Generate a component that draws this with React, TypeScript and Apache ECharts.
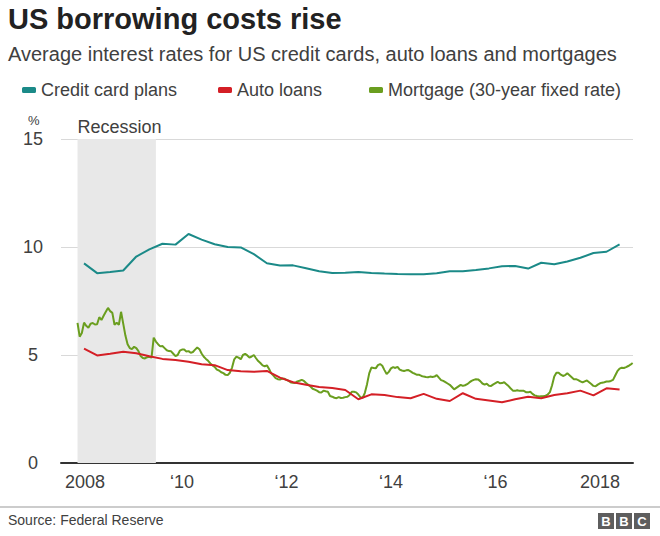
import React, { useEffect, useRef } from "react";
import * as echarts from "echarts";

const FONT = '"Liberation Sans", Arial, Helvetica, sans-serif';

// x-axis tick years
const yearTicks = [2008, 2010, 2012, 2014, 2016, 2018];
// y-axis ticks
const yTicks = [0, 5, 10, 15];
// Recession shading (start, end) in decimal years
const recession = [2008.0, 2009.5];

// Quarterly series: first observation Feb 2008, one every 3 months
const quarterlyStart = { year: 2008, month: 2 };
const creditCard = [
  9.24, 8.79, 8.84, 8.91, 9.56, 9.89, 10.15, 10.11, 10.6, 10.34,
  10.13, 10.0, 9.98, 9.67, 9.25, 9.14, 9.15, 9.02, 8.88, 8.8,
  8.81, 8.84, 8.8, 8.77, 8.75, 8.74, 8.74, 8.79, 8.88, 8.88,
  8.94, 9.01, 9.11, 9.12, 9.0, 9.27, 9.2, 9.33, 9.5, 9.72,
  9.78, 10.12,
];
const autoLoans = [
  5.3, 4.98, 5.06, 5.15, 5.08, 4.94, 4.82, 4.77, 4.69, 4.57,
  4.53, 4.3, 4.25, 4.22, 4.26, 3.95, 3.74, 3.62, 3.52, 3.47,
  3.38, 2.95, 3.18, 3.15, 3.05, 3.0, 3.2, 2.97, 2.87, 3.23,
  2.97, 2.89, 2.81, 2.95, 3.07, 3.0, 3.15, 3.23, 3.35, 3.13,
  3.46, 3.4,
];

// Mortgage: twice-monthly readings (1st and 16th) from Jan 2008
const mortgageStart = { year: 2008, month: 1 };
const mortgage = [
  6.49, 5.85, 6.02, 6.5, 6.35, 6.26, 6.45, 6.48, 6.41, 6.42,
  6.75, 6.62, 6.82, 7.0, 7.18, 7.03, 6.95, 6.4, 6.49, 6.4,
  7.0, 6.45, 5.9, 5.5, 5.32, 5.27, 5.38, 5.32, 5.18, 4.95,
  4.86, 4.84, 4.9, 4.92, 4.88, 5.8, 5.62, 5.5, 5.4, 5.42,
  5.32, 5.22, 5.18, 5.17, 5.06, 4.95, 5.0, 5.2, 5.25, 5.25,
  5.16, 5.18, 5.1, 5.14, 5.25, 5.35, 5.27, 5.07, 4.92, 4.82,
  4.73, 4.61, 4.52, 4.45, 4.32, 4.28, 4.2, 4.16, 4.08, 4.07,
  4.18, 4.42, 4.8, 4.92, 4.88, 4.8, 5.0, 5.05, 4.98, 4.88,
  4.93, 5.0, 4.85, 4.72, 4.63, 4.52, 4.48, 4.52, 4.35, 4.15,
  4.05, 3.93, 3.88, 3.86, 3.91, 3.9, 3.85, 3.8, 3.73, 3.72,
  3.7, 3.78, 3.81, 3.85, 3.8, 3.7, 3.62, 3.54, 3.44, 3.4,
  3.35, 3.28, 3.26, 3.35, 3.32, 3.3, 3.1, 3.07, 3.02, 3.0,
  3.05, 3.01, 3.02, 3.05, 3.07, 3.15, 3.3, 3.3, 3.27, 3.17,
  3.04, 3.02, 3.25, 3.65, 4.15, 4.42, 4.4, 4.38, 4.53, 4.58,
  4.5, 4.3, 4.12, 4.22, 4.38, 4.44, 4.4, 4.45, 4.32, 4.28,
  4.26, 4.29, 4.3, 4.24, 4.17, 4.13, 4.08, 4.08, 4.03, 4.0,
  3.98, 3.97, 4.0, 3.98, 4.0, 4.07, 3.95, 3.84, 3.8, 3.74,
  3.68, 3.62, 3.52, 3.41, 3.48, 3.55, 3.62, 3.57, 3.6, 3.65,
  3.73, 3.8, 3.85, 3.88, 3.87, 3.79, 3.68, 3.63, 3.67, 3.58,
  3.57, 3.64, 3.7, 3.76, 3.69, 3.7, 3.74, 3.65, 3.56, 3.45,
  3.35, 3.34, 3.37, 3.34, 3.34, 3.34, 3.28, 3.27, 3.3, 3.2,
  3.13, 3.1, 3.08, 3.09, 3.09, 3.12, 3.17, 3.28, 3.6, 4.0,
  4.18, 4.18, 4.09, 4.03, 4.07, 4.15, 4.06, 3.97, 3.88, 3.88,
  3.84, 3.78, 3.73, 3.78, 3.82, 3.74, 3.66, 3.57, 3.55, 3.63,
  3.69, 3.72, 3.74, 3.77, 3.77, 3.8, 3.85, 4.05, 4.25, 4.37,
  4.41, 4.4, 4.44, 4.49, 4.55, 4.63,
];

const seriesNames = ["Credit card plans", "Auto loans", "Mortgage (30-year fixed rate)"];
const seriesColors = ["#1b8a88", "#d41f26", "#6a9e1f"];

// quarterly observation -> decimal year (mid-month)
const quarterly = (vals: number[]) =>
  vals.map((v, i) => {
    const m = quarterlyStart.month - 1 + 3 * i;
    return [quarterlyStart.year + (m + 0.5) / 12, v];
  });
// twice-monthly observation -> decimal year
const semiMonthly = (vals: number[]) =>
  vals.map((v, i) => [mortgageStart.year + (mortgageStart.month - 1) / 12 + i / 24, v]);

export default function App() {
  const ref = useRef<HTMLDivElement>(null);

  useEffect(() => {
    if (!ref.current) return;
    const chart = echarts.init(ref.current, undefined, { renderer: "svg" });
    const textColor = "#404040";

    const legendPos = [22, 218, 369];
    const option: any = {
      animation: false,
      backgroundColor: "#ffffff",
      textStyle: { fontFamily: FONT },
      title: [
        {
          text: "US borrowing costs rise",
          left: 8,
          top: 4,
          padding: 0,
          textStyle: { fontFamily: FONT, fontSize: 29, fontWeight: "bold", color: "#222222" },
        },
        {
          text: "Average interest rates for US credit cards, auto loans and mortgages",
          left: 8,
          top: 44,
          padding: 0,
          textStyle: { fontFamily: FONT, fontSize: 20, fontWeight: "normal", color: textColor },
        },
        {
          text: "Source: Federal Reserve",
          left: 8,
          top: 513,
          padding: 0,
          textStyle: { fontFamily: FONT, fontSize: 14, fontWeight: "normal", color: textColor },
        },
      ],
      legend: seriesNames.map((n, i) => ({
        data: [n],
        left: legendPos[i],
        top: 81,
        padding: 0,
        icon: "roundRect",
        itemWidth: 14,
        itemHeight: 6,
        selectedMode: false,
        textStyle: { fontFamily: FONT, fontSize: 18, color: textColor },
      })),
      grid: { left: 61, right: 27, top: 139, bottom: 73, containLabel: false },
      xAxis: {
        type: "value",
        min: 2007.684,
        max: 2018.632,
        axisLine: { show: true, lineStyle: { color: "#333333", width: 2 } },
        axisTick: { show: false },
        splitLine: { show: false },
        axisLabel: {
          customValues: yearTicks,
          fontFamily: FONT,
          fontSize: 18,
          color: textColor,
          margin: 10,
          formatter: (v: number) => {
            if (v === yearTicks[0]) return "{first|" + v + "}";
            if (v === yearTicks[yearTicks.length - 1]) return String(v);
            return "\u2018" + String(v).slice(2);
          },
          rich: {
            first: { fontFamily: FONT, fontSize: 18, color: textColor, padding: [0, 0, 0, 15] },
          },
        },
      },
      yAxis: {
        type: "value",
        min: yTicks[0],
        max: yTicks[yTicks.length - 1],
        interval: 5,
        axisLine: { show: false },
        axisTick: { show: false },
        splitLine: { lineStyle: { color: "#d9d9d9", width: 1 } },
        axisLabel: {
          fontFamily: FONT,
          fontSize: 18,
          color: textColor,
          align: "center",
          margin: 28,
        },
      },
      graphic: [
        {
          type: "text",
          left: 28,
          top: 114,
          style: { text: "%", font: `13px ${FONT}`, fill: textColor },
        },
        {
          type: "line",
          shape: { x1: 0, y1: 507, x2: 660, y2: 507 },
          style: { stroke: "#cccccc", lineWidth: 2 },
        },
        ...["B", "B", "C"].flatMap((ch, i) => [
          {
            type: "rect",
            shape: { x: 598 + i * 18, y: 513, width: 16, height: 16 },
            style: { fill: "#5e5e5e" },
          },
          {
            type: "text",
            x: 606 + i * 18,
            y: 521,
            style: {
              text: ch,
              font: `bold 13px ${FONT}`,
              fill: "#ffffff",
              align: "center",
              verticalAlign: "middle",
            },
          },
        ]),
      ],
      series: [
        {
          name: seriesNames[0],
          type: "line",
          data: quarterly(creditCard),
          showSymbol: false,
          lineStyle: { color: seriesColors[0], width: 2 },
          itemStyle: { color: seriesColors[0] },
          z: 3,
          markArea: {
            silent: true,
            itemStyle: { color: "#e8e8e8" },
            label: {
              show: true,
              position: [0, -21],
              align: "left",
              verticalAlign: "top",
              fontFamily: FONT,
              fontSize: 18,
              color: textColor,
            },
            data: [[{ name: "Recession", xAxis: recession[0] }, { xAxis: recession[1] }]],
          },
        },
        {
          name: seriesNames[2],
          type: "line",
          data: semiMonthly(mortgage),
          showSymbol: false,
          lineStyle: { color: seriesColors[2], width: 2 },
          itemStyle: { color: seriesColors[2] },
          z: 3,
        },
        {
          name: seriesNames[1],
          type: "line",
          data: quarterly(autoLoans),
          showSymbol: false,
          lineStyle: { color: seriesColors[1], width: 2 },
          itemStyle: { color: seriesColors[1] },
          z: 4,
        },
      ],
    };
    chart.setOption(option);
    return () => chart.dispose();
  }, []);

  return (
    <div
      ref={ref}
      style={{ position: "fixed", left: 0, top: 0, width: 660, height: 536, background: "#fff" }}
    />
  );
}
